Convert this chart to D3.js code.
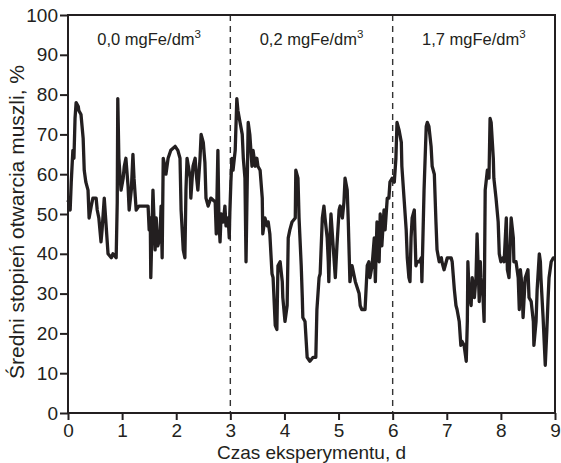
<!DOCTYPE html>
<html>
<head>
<meta charset="utf-8">
<script src="https://cdn.jsdelivr.net/npm/d3@7"></script>
<style>
    body { margin: 0; background: #fff; }
    text { font-family: "Liberation Sans", Arial, sans-serif; fill: #231f20; }
</style>
</head>
<body>
<div id="chart"></div>
<script>
// time of experiment, days
const days = [
    0.00, 0.02, 0.04, 0.06, 0.09, 0.11, 0.13, 0.15, 0.19, 0.20, 0.24, 0.26, 0.28, 0.30, 0.33, 0.37, 0.39, 0.43, 0.46, 0.52,
    0.54, 0.57, 0.61, 0.63, 0.67, 0.70, 0.74, 0.80, 0.83, 0.89, 0.91, 0.92, 0.94, 0.98, 1.02, 1.04, 1.07, 1.11, 1.13, 1.17,
    1.20, 1.22, 1.26, 1.31, 1.41, 1.48, 1.50, 1.52, 1.53, 1.55, 1.57, 1.61, 1.63, 1.66, 1.70, 1.72, 1.74, 1.76, 1.79, 1.81,
    1.85, 1.90, 1.98, 2.03, 2.07, 2.09, 2.13, 2.16, 2.18, 2.20, 2.26, 2.27, 2.31, 2.35, 2.37, 2.40, 2.44, 2.46, 2.50, 2.53,
    2.55, 2.59, 2.64, 2.72, 2.74, 2.77, 2.79, 2.81, 2.83, 2.87, 2.90, 2.92, 2.96, 2.98, 2.99, 3.01, 3.03, 3.05, 3.09, 3.12,
    3.14, 3.18, 3.22, 3.24, 3.27, 3.29, 3.31, 3.33, 3.36, 3.40, 3.42, 3.46, 3.49, 3.51, 3.55, 3.59, 3.60, 3.64, 3.68, 3.70,
    3.73, 3.77, 3.79, 3.83, 3.86, 3.88, 3.92, 3.96, 3.97, 4.01, 4.05, 4.07, 4.10, 4.14, 4.20, 4.21, 4.25, 4.27, 4.31, 4.33,
    4.34, 4.38, 4.42, 4.47, 4.53, 4.58, 4.60, 4.64, 4.66, 4.70, 4.73, 4.75, 4.79, 4.81, 4.82, 4.84, 4.86, 4.92, 4.94, 4.97,
    5.01, 5.03, 5.07, 5.10, 5.12, 5.16, 5.18, 5.19, 5.21, 5.25, 5.31, 5.38, 5.40, 5.43, 5.49, 5.53, 5.56, 5.58, 5.62, 5.66,
    5.68, 5.71, 5.75, 5.77, 5.80, 5.84, 5.86, 5.90, 5.93, 5.95, 5.99, 6.03, 6.06, 6.08, 6.12, 6.16, 6.17, 6.21, 6.25, 6.27,
    6.30, 6.32, 6.34, 6.36, 6.40, 6.41, 6.43, 6.45, 6.49, 6.53, 6.54, 6.58, 6.62, 6.64, 6.67, 6.71, 6.73, 6.77, 6.80, 6.82,
    6.86, 6.90, 6.91, 6.95, 6.99, 7.01, 7.08, 7.10, 7.14, 7.17, 7.19, 7.23, 7.26, 7.28, 7.32, 7.36, 7.38, 7.39, 7.41, 7.45,
    7.47, 7.51, 7.54, 7.56, 7.60, 7.62, 7.63, 7.67, 7.69, 7.71, 7.75, 7.78, 7.80, 7.82, 7.86, 7.87, 7.91, 7.95, 7.97, 8.00,
    8.04, 8.06, 8.10, 8.12, 8.15, 8.19, 8.23, 8.24, 8.28, 8.32, 8.34, 8.36, 8.39, 8.41, 8.45, 8.50, 8.52, 8.56, 8.60, 8.61,
    8.65, 8.67, 8.71, 8.73, 8.74, 8.78, 8.80, 8.82, 8.85, 8.87, 8.89, 8.93, 8.97, 9.00
];

// mean degree of shell opening, %
const opening = [
    53, 54, 51, 58, 66, 64, 74, 78, 77, 76, 75, 72, 69, 61, 58, 56, 49, 52, 54, 54,
    51, 49, 43, 46, 54, 48, 40, 39, 40, 39, 53, 79, 64, 56, 59, 62, 64, 57, 51, 56,
    65, 59, 51, 52, 52, 52, 46, 49, 34, 45, 56, 41, 49, 42, 44, 52, 39, 64, 62, 60,
    64, 66, 67, 66, 64, 51, 41, 39, 56, 64, 59, 54, 62, 64, 60, 56, 64, 70, 68, 63,
    54, 52, 54, 53, 45, 66, 48, 43, 50, 48, 52, 47, 49, 44, 50, 58, 64, 61, 66, 79,
    76, 73, 70, 64, 59, 38, 56, 73, 70, 62, 66, 62, 64, 62, 61, 54, 45, 49, 47, 48,
    45, 35, 34, 22, 21, 37, 38, 33, 29, 23, 27, 44, 46, 48, 49, 61, 59, 49, 37, 29,
    24, 23, 14, 13, 14, 14, 26, 34, 35, 49, 52, 49, 44, 38, 33, 44, 50, 38, 34, 42,
    51, 52, 49, 53, 59, 56, 48, 43, 33, 37, 33, 30, 27, 26, 26, 37, 38, 34, 37, 44,
    33, 48, 38, 50, 42, 51, 46, 54, 54, 58, 59, 58, 64, 73, 71, 68, 62, 54, 46, 39,
    34, 33, 44, 49, 51, 46, 37, 38, 38, 39, 33, 56, 72, 73, 72, 67, 62, 60, 48, 41,
    38, 39, 38, 36, 38, 39, 39, 38, 31, 27, 26, 23, 17, 18, 17, 13, 23, 38, 31, 27,
    34, 29, 34, 45, 28, 38, 34, 29, 23, 56, 61, 59, 74, 73, 64, 59, 54, 48, 40, 38,
    39, 38, 49, 36, 34, 49, 44, 38, 38, 34, 26, 36, 32, 24, 34, 36, 29, 28, 23, 17,
    23, 31, 40, 38, 34, 24, 18, 12, 21, 28, 34, 38, 39, 39
];

const phaseBounds = [3, 6];
const phaseCentres = [1.5, 4.5, 7.5];
const phaseLabels = ["0,0 mgFe/dm", "0,2 mgFe/dm", "1,7 mgFe/dm"];
const xTicks = [0, 1, 2, 3, 4, 5, 6, 7, 8, 9];
const yTicks = [0, 10, 20, 30, 40, 50, 60, 70, 80, 90, 100];

function drawChart() {
    const margin = {top: 15, right: 6, bottom: 50, left: 68},
        width = 561 - margin.left - margin.right,
        height = 463 - margin.top - margin.bottom;
    const ink = "#231f20";

    const svg = d3.select("#chart")
        .append("svg")
        .attr("width", width + margin.left + margin.right)
        .attr("height", height + margin.top + margin.bottom)
        .append("g")
        .attr("transform", `translate(${margin.left},${margin.top})`);

    const x = d3.scaleLinear().domain([0, 9]).range([0, width]);
    const y = d3.scaleLinear().domain([0, 100]).range([height, 0]);

    // phase separators
    svg.selectAll(".phase-line")
        .data(phaseBounds)
        .enter().append("line")
        .attr("class", "phase-line")
        .attr("x1", d => x(d))
        .attr("x2", d => x(d))
        .attr("y1", 0)
        .attr("y2", height)
        .attr("stroke", "#333")
        .attr("stroke-width", 1.4)
        .attr("stroke-dasharray", "6,5");

    const labels = svg.selectAll(".phase-label")
        .data(phaseLabels)
        .enter().append("text")
        .attr("class", "phase-label")
        .attr("x", (d, i) => x(phaseCentres[i]))
        .attr("y", 30)
        .attr("text-anchor", "middle")
        .style("font-size", "16.5px");
    labels.append("tspan").text(d => d);
    labels.append("tspan")
        .attr("dy", -7)
        .style("font-size", "11.5px")
        .text("3");

    const line = d3.line()
        .x((d, i) => x(days[i]))
        .y(d => y(d));

    svg.append("path")
        .datum(opening)
        .attr("fill", "none")
        .attr("stroke", ink)
        .attr("stroke-width", 3.3)
        .attr("stroke-linejoin", "round")
        .attr("d", line);

    const xAxis = svg.append("g")
        .attr("transform", `translate(0,${height})`)
        .call(d3.axisBottom(x).tickValues(xTicks).tickSize(7).tickPadding(4).tickFormat(d3.format("d")));

    const yAxis = svg.append("g")
        .call(d3.axisLeft(y).tickValues(yTicks).tickSize(8).tickPadding(2).tickFormat(d3.format("d")));

    [xAxis, yAxis].forEach(g => {
        g.select(".domain").remove();
        g.selectAll("line").attr("stroke", ink).attr("stroke-width", 2);
        g.selectAll("text").style("font-size", "19px").style("font-family", "Liberation Sans, Arial, sans-serif").attr("fill", ink);
    });

    svg.append("rect")
        .attr("width", width)
        .attr("height", height)
        .attr("fill", "none")
        .attr("stroke", ink)
        .attr("stroke-width", 2);

    svg.append("text")
        .attr("text-anchor", "middle")
        .attr("x", width / 2)
        .attr("y", height + 45.5)
        .style("font-size", "19px")
        .text("Czas eksperymentu, d");

    svg.append("text")
        .attr("text-anchor", "middle")
        .attr("transform", `translate(${-margin.left + 24},${height / 2 + 8}) rotate(-90)`)
        .style("font-size", "21px")
        .text("Średni stopień otwarcia muszli, %");
}

drawChart();
</script>
</body>
</html>
